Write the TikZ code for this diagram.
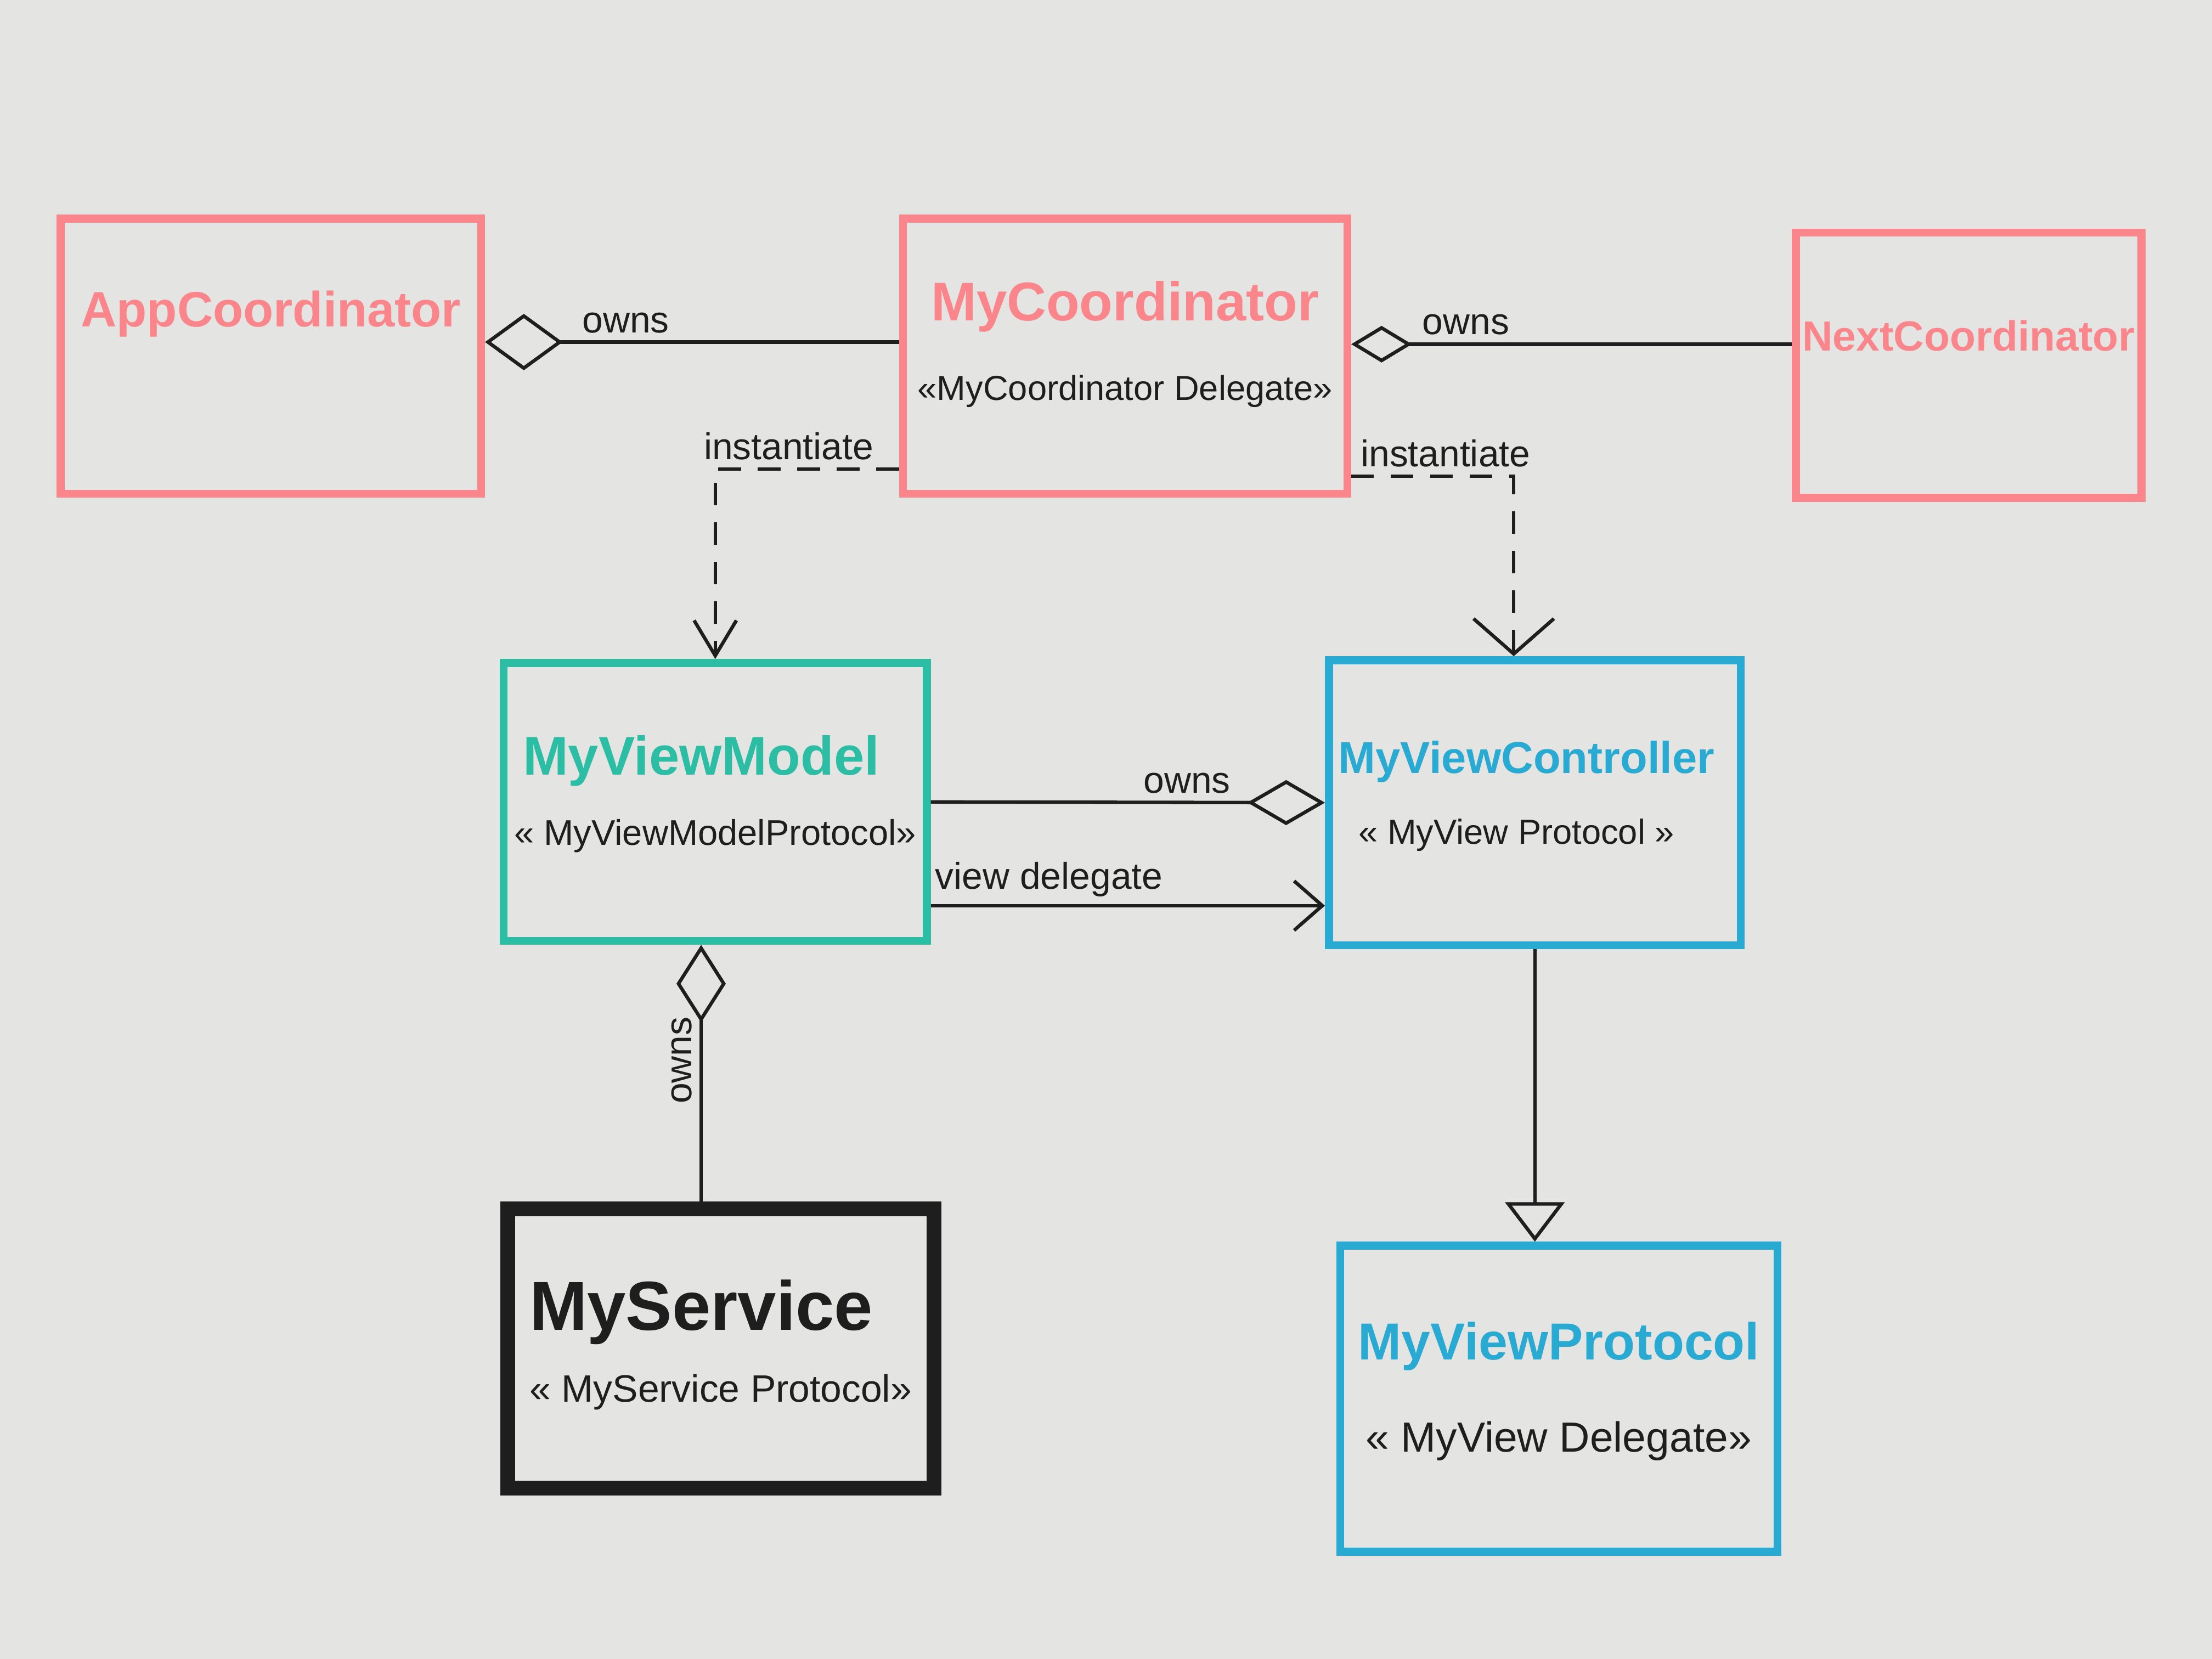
\documentclass[tikz,border=0pt]{standalone}
\usepackage{fontspec}
\setmainfont{Liberation Sans}
\usepackage{tikz}
\usetikzlibrary{arrows.meta,positioning}

\definecolor{paper}{RGB}{228,228,226}
\definecolor{coordcol}{RGB}{250,134,140}
\definecolor{vmcol}{RGB}{44,190,164}
\definecolor{vccol}{RGB}{40,170,210}
\definecolor{ink}{RGB}{30,30,30}

\tikzset{
  box/.style={draw, line width=1.6pt, inner sep=0pt},
  title/.style={font=\bfseries\fontsize{#1}{#1}\selectfont},
  stereo/.style={text=ink, font=\fontsize{#1}{#1}\selectfont},
  stereo/.default=7.5,
  lbl/.style={text=ink, font=\fontsize{7.5}{9}\selectfont, inner sep=1.5pt},
  owns/.style={-{Diamond[open,length=5.5mm,width=#1]}},
  owns/.default=4mm,
  inst/.style={dash pattern=on 1.6mm off 1.2mm}
}

\begin{document}
\begin{tikzpicture}[line width=0.7pt, draw=ink]
\fill[paper] (0,0) rectangle (15.68,11.76);
\useasboundingbox (0,0) rectangle (15.68,11.76);

% coordinators
\node[box, draw=coordcol, minimum width=2.98cm, minimum height=1.95cm] (app) at (1.92,9.235) {};
\node[box, draw=coordcol, minimum width=3.15cm, minimum height=1.95cm] (mycoord) at (7.975,9.235) {};
\node[box, draw=coordcol, minimum width=2.45cm, minimum height=1.88cm] (next) at (13.955,9.17) {};

\node[title=10, text=coordcol] (appT) at ([yshift=3mm]app.center) {AppCoordinator};
\node[title=11, text=coordcol] (mycoordT) at ([yshift=3.5mm]mycoord.center) {MyCoordinator};
\node[stereo=7] (mycoordS) at ([yshift=-2.5mm]mycoord.center) {«MyCoordinator Delegate»};
\node[title=8.5, text=coordcol] (nextT) at ([yshift=2.1mm]next.center) {NextCoordinator};

% view layer
\node[box, draw=vmcol, minimum width=3.0cm, minimum height=1.97cm] (vm) at (5.07,6.075) {};
\node[box, draw=vccol, minimum width=2.92cm, minimum height=2.02cm] (vc) at (10.88,6.07) {};

\node[title=11, text=vmcol] (vmT) at ([xshift=-1mm,yshift=2.9mm]vm.center) {MyViewModel};
\node[stereo=7.2] (vmS) at ([yshift=-2.4mm]vm.center) {« MyViewModelProtocol»};
\node[title=9, text=vccol] (vcT) at ([xshift=-0.6mm,yshift=2.9mm]vc.center) {MyViewController};
\node[stereo=7] (vcS) at ([xshift=-1.3mm,yshift=-2.3mm]vc.center) {« MyView Protocol »};

% bottom row
\node[box, draw=ink, line width=3pt, minimum width=3.02cm, minimum height=1.98cm] (svc) at (5.11,2.2) {};
\node[box, draw=vccol, minimum width=3.1cm, minimum height=2.17cm] (vp) at (11.05,1.845) {};

\node[title=14, text=ink] (svcT) at ([xshift=-1.4mm,yshift=2.6mm]svc.center) {MyService};
\node[stereo=7.7] (svcS) at ([yshift=-3.1mm]svc.center) {« MyService Protocol»};
\node[title=10.5, text=vccol] (vpT) at ([yshift=3.7mm]vp.center) {MyViewProtocol};
\node[stereo=8.5] (vpS) at ([yshift=-3mm]vp.center) {« MyView Delegate»};

% ownership
\draw[owns] ([yshift=1mm]mycoord.west) -- ([yshift=1mm]app.east)
  node[pos=0.66, above, lbl] {owns};
\draw[-{Diamond[open,length=4.3mm,width=2.6mm]}] ([yshift=1.5mm]next.west) -- ([yshift=1.5mm]next.west -| mycoord.east)
  node[pos=0.74, above, lbl] {owns};
\draw[owns=3.2mm] (vm.east) -- (vc.west)
  node[pos=0.65, above, lbl] {owns};
\draw[owns=3.5mm] ([xshift=-1.4mm]svc.north) -- ([xshift=-1.4mm]svc.north |- vm.south)
  node[pos=0.55, sloped, above, lbl] {owns};

% instantiate
\draw[inst, -{Straight Barb[length=2.5mm,width=3mm]}] ([yshift=-8mm]mycoord.west) -| (vm.north)
  node[pos=0.3, above, lbl] {instantiate};
\draw[inst, -{Straight Barb[length=2.5mm,width=5.7mm]}] ([yshift=-8.5mm]mycoord.east) -| ([xshift=-1.5mm]vc.north)
  node[pos=0.29, above, lbl] {instantiate};

% delegate and protocol
\draw[-{Straight Barb[length=2mm,width=3.5mm]}] ([yshift=-7.35mm]vm.east) -- ([yshift=-7.35mm]vm.east -| vc.west)
  node[pos=0.3, above, lbl] {view delegate};
\draw[-{Triangle[open,length=2.8mm,width=4.2mm]}] (vc.south) -- (vc.south |- vp.north);
\end{tikzpicture}
\end{document}
